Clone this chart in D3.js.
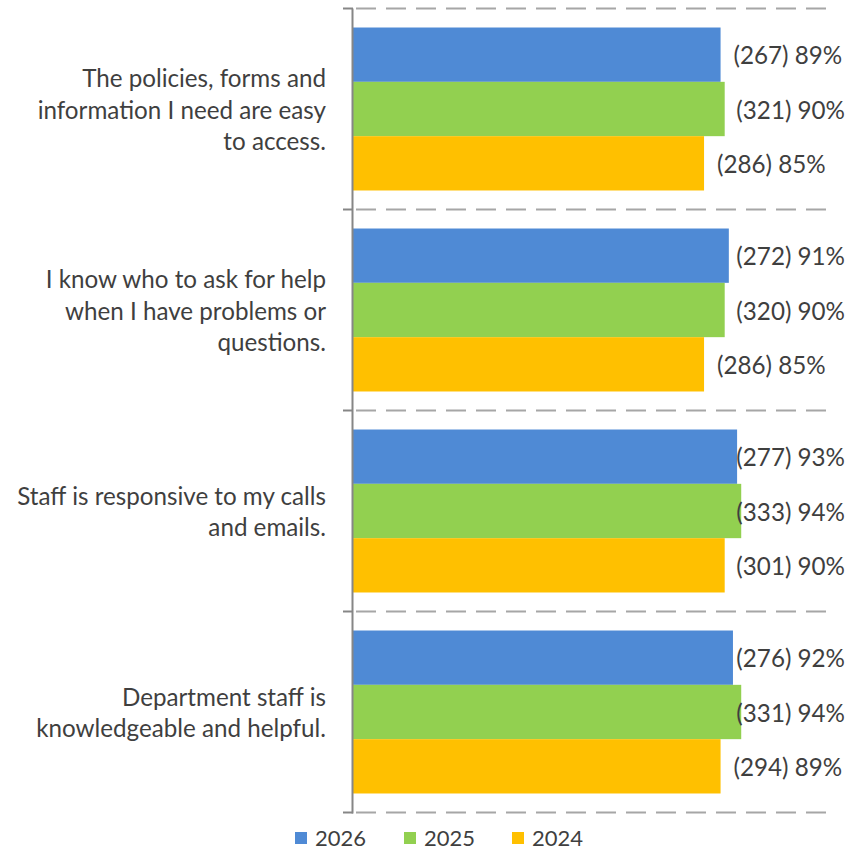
<!DOCTYPE html>
<html>
<head>
<meta charset="utf-8">
<script src="https://cdn.jsdelivr.net/npm/d3@7"></script>
<style>
  html, body { margin: 0; padding: 0; background: #fff; }
  svg { display: block; }
  text { font-family: Lato, "Open Sans", sans-serif; fill: #3f3f3f; }
</style>
</head>
<body>
<svg id="chart" width="866" height="850"></svg>
<script>
// Survey statements (line breaks as displayed)
const categories = [
  "The policies, forms and\ninformation I need are easy\nto access.",
  "I know who to ask for help\nwhen I have problems or\nquestions.",
  "Staff is responsive to my calls\nand emails.",
  "Department staff is\nknowledgeable and helpful."
];
const series = ["2026", "2025", "2024"];
const seriesColors = ["#4F8AD5", "#92D050", "#FFC000"];

// Percent agreeing, per year, in category order
const pct2026 = [89, 91, 93, 92];
const pct2025 = [90, 90, 94, 94];
const pct2024 = [85, 85, 90, 89];
// Number of respondents agreeing
const n2026 = [267, 272, 277, 276];
const n2025 = [321, 320, 333, 331];
const n2024 = [286, 286, 301, 294];

const pctBySeries = [pct2026, pct2025, pct2024];
const nBySeries = [n2026, n2025, n2024];

const svg = d3.select("#chart");

const x = d3.scaleLinear().domain([0, 100]).range([353, 766]);
const y = d3.scaleBand().domain(d3.range(categories.length)).range([8.5, 812.5]);
const yInner = d3.scaleBand().domain(series).range([0, y.bandwidth()]).paddingOuter(0.35);

// Dashed separators between statement groups
const sepY = categories.map((_, i) => y(i)).concat([y.range()[1]]);
svg.append("g").selectAll("line").data(sepY).join("line")
  .attr("x1", 354).attr("x2", 830)
  .attr("y1", d => d).attr("y2", d => d)
  .attr("stroke", "#a6a6a6").attr("stroke-width", 2)
  .attr("stroke-dasharray", "20,10").attr("stroke-dashoffset", -2);

// Bars
const rows = [];
categories.forEach((c, i) => series.forEach((s, j) => {
  rows.push({ i, s, j, pct: pctBySeries[j][i], n: nBySeries[j][i] });
}));

svg.append("g").selectAll("rect").data(rows).join("rect")
  .attr("x", x(0))
  .attr("y", d => y(d.i) + yInner(d.s))
  .attr("width", d => x(d.pct) - x(0))
  .attr("height", yInner.bandwidth())
  .attr("fill", d => seriesColors[d.j]);

// Category axis line with tick marks at group boundaries
const axisG = svg.append("g");
axisG.append("line")
  .attr("x1", 352.5).attr("x2", 352.5)
  .attr("y1", sepY[0]).attr("y2", sepY[sepY.length - 1] + 1)
  .attr("stroke", "#868686").attr("stroke-width", 2);
axisG.selectAll("line.tick").data(sepY).join("line")
  .attr("class", "tick")
  .attr("x1", 343).attr("x2", 353)
  .attr("y1", d => d).attr("y2", d => d)
  .attr("stroke", "#868686").attr("stroke-width", 2);

// Category labels, right-aligned, vertically centred on the group
const lineH = 31.5;
const catG = svg.append("g");
categories.forEach((c, i) => {
  const lines = c.split("\n");
  const cy = y(i) + y.bandwidth() / 2;
  const t = catG.append("text")
    .attr("text-anchor", "end")
    .attr("font-size", 24.2);
  lines.forEach((ln, k) => {
    t.append("tspan")
      .attr("x", 326)
      .attr("y", cy + (k - (lines.length - 1) / 2) * lineH)
      .attr("dominant-baseline", "central")
      .text(ln);
  });
});

// Value labels: outside the bar end, kept inside the right edge
const rightLimit = 845;
const labels = svg.append("g").selectAll("text").data(rows).join("text")
  .attr("font-size", 24.2)
  .attr("dominant-baseline", "central")
  .attr("y", d => y(d.i) + yInner(d.s) + yInner.bandwidth() / 2)
  .text(d => `(${d.n}) ${d.pct}%`);
labels.each(function(d) {
  const w = this.getComputedTextLength();
  d3.select(this).attr("x", Math.min(x(d.pct) + 13, rightLimit - w));
});

// Legend
const legendX = [295, 404, 512];
const legend = svg.append("g").selectAll("g").data(series).join("g")
  .attr("transform", (d, j) => `translate(${legendX[j]},836)`);
legend.append("rect")
  .attr("x", 0).attr("y", -4).attr("width", 12).attr("height", 12)
  .attr("fill", (d, j) => seriesColors[j]);
legend.append("text")
  .attr("x", 20).attr("y", 1)
  .attr("dominant-baseline", "central")
  .attr("font-size", 22)
  .text(d => d);
</script>
</body>
</html>
